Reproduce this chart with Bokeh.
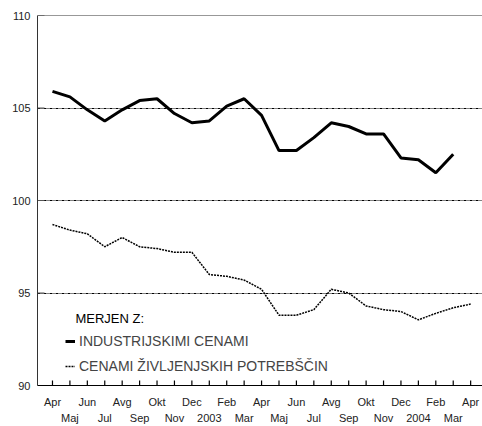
from bokeh.plotting import figure
from bokeh.models import (LinearAxis, FixedTicker, Span, Legend, LegendItem,
                          Label, Range1d)
from bokeh.embed import file_html
from bokeh.resources import INLINE

months = ["Apr", "Maj", "Jun", "Jul", "Avg", "Sep", "Okt", "Nov", "Dec", "2003",
          "Feb", "Mar", "Apr", "Maj", "Jun", "Jul", "Avg", "Sep", "Okt", "Nov",
          "Dec", "2004", "Feb", "Mar", "Apr"]

industrial = [105.9, 105.6, 104.9, 104.3, 104.9, 105.4, 105.5, 104.7, 104.2, 104.3,
              105.1, 105.5, 104.6, 102.7, 102.7, 103.4, 104.2, 104.0, 103.6, 103.6,
              102.3, 102.2, 101.5, 102.5]

consumer = [98.7, 98.4, 98.2, 97.5, 98.0, 97.5, 97.4, 97.2, 97.2, 96.0,
            95.9, 95.7, 95.2, 93.8, 93.8, 94.1, 95.2, 95.0, 94.3, 94.1,
            94.0, 93.55, 93.9, 94.2, 94.4]

y_ticks = [90, 95, 100, 105, 110]
grid_ticks = [95, 100, 105]

series_names = ["INDUSTRIJSKIMI CENAMI", "CENAMI ŽIVLJENJSKIH POTREBŠČIN"]
legend_title = "MERJEN Z:"

FONT = "Liberation Sans"
X0, X1 = -0.86, 24.68
Y0, Y1 = 90, 110

p = figure(width=482, height=426, x_range=Range1d(X0, X1),
           y_range=Range1d(Y0, Y1), output_backend="svg",
           toolbar_location=None, min_border_left=37, min_border_top=15,
           min_border_right=0, min_border_bottom=41)
p.outline_line_color = None
p.background_fill_color = "white"
p.border_fill_color = "white"

# Y axis
ya = p.yaxis[0]
ya.ticker = FixedTicker(ticks=y_ticks)
ya.axis_line_color = "#333333"
ya.major_tick_in = 0
ya.major_tick_out = 0
ya.minor_tick_line_color = None
ya.major_label_standoff = 7
ya.major_label_text_font = FONT
ya.major_label_text_font_size = "11px"
ya.major_label_text_color = "#222222"

# grid
p.xgrid.visible = False
p.ygrid.ticker = FixedTicker(ticks=grid_ticks)
p.ygrid.grid_line_color = "black"
p.ygrid.grid_line_dash = "3 1 1 1"
p.ygrid.grid_line_width = 1

# X axis row 1
idx = list(range(len(months)))
xa = p.xaxis[0]
xa.ticker = FixedTicker(ticks=idx)
xa.major_label_overrides = {i: (months[i] if i % 2 == 0 else "") for i in idx}
xa.axis_line_color = "black"
xa.major_tick_in = 0
xa.major_tick_out = 0
xa.minor_tick_line_color = None
xa.major_label_standoff = 10
xa.major_label_text_font = FONT
xa.major_label_text_font_size = "11px"
xa.major_label_text_color = "#222222"
xa.major_label_text_line_height = 1.0

# X axis row 2
odd = [i for i in idx if i % 2 == 1]
xa2 = LinearAxis(ticker=FixedTicker(ticks=odd))
xa2.major_label_overrides = {i: months[i] for i in odd}
xa2.axis_line_color = None
xa2.major_tick_line_color = None
xa2.minor_tick_line_color = None
xa2.major_tick_in = 0
xa2.major_tick_out = 0
xa2.major_label_standoff = 1
xa2.major_label_text_font = FONT
xa2.major_label_text_font_size = "11px"
xa2.major_label_text_color = "#222222"
xa2.major_label_text_line_height = 1.0
p.add_layout(xa2, "below")

# top line
p.add_layout(Span(location=Y1, dimension="width", line_color="#333333", line_width=1))

# tick marks drawn inside the frame
tick_len_y = 5 / 18.5
tick_x = [float(i) for i in idx]
p.segment(x0=tick_x, y0=[float(Y0)] * len(idx), x1=tick_x,
          y1=[Y0 + tick_len_y] * len(idx),
          line_color="black", line_width=1.2)
tick_len_x = 7 / 17.42
p.segment(x0=[X0] * len(y_ticks), y0=[float(v) for v in y_ticks],
          x1=[X0 + tick_len_x] * len(y_ticks),
          y1=[float(v) for v in y_ticks], line_color="#555555", line_width=1.2)

r1 = p.line(list(range(len(industrial))), industrial, line_color="black", line_width=3)
r2 = p.line(list(range(len(consumer))), consumer, line_color="black", line_width=1.5,
            line_dash="2 1")

legend = Legend(items=[LegendItem(label=series_names[0], renderers=[r1]),
                       LegendItem(label=series_names[1], renderers=[r2])],
                location=(28, 9), glyph_width=10, glyph_height=20,
                label_text_font=FONT, label_text_font_size="14px",
                label_standoff=4, spacing=5, padding=0, margin=0,
                border_line_color=None, background_fill_alpha=0)
p.add_layout(legend)

p.add_layout(Label(x=1.32, y=93.62, text=legend_title, text_font=FONT,
                   text_font_size="13px", text_baseline="middle",
                   text_color="black"))

open("out.html", "w").write(file_html(p, INLINE))
